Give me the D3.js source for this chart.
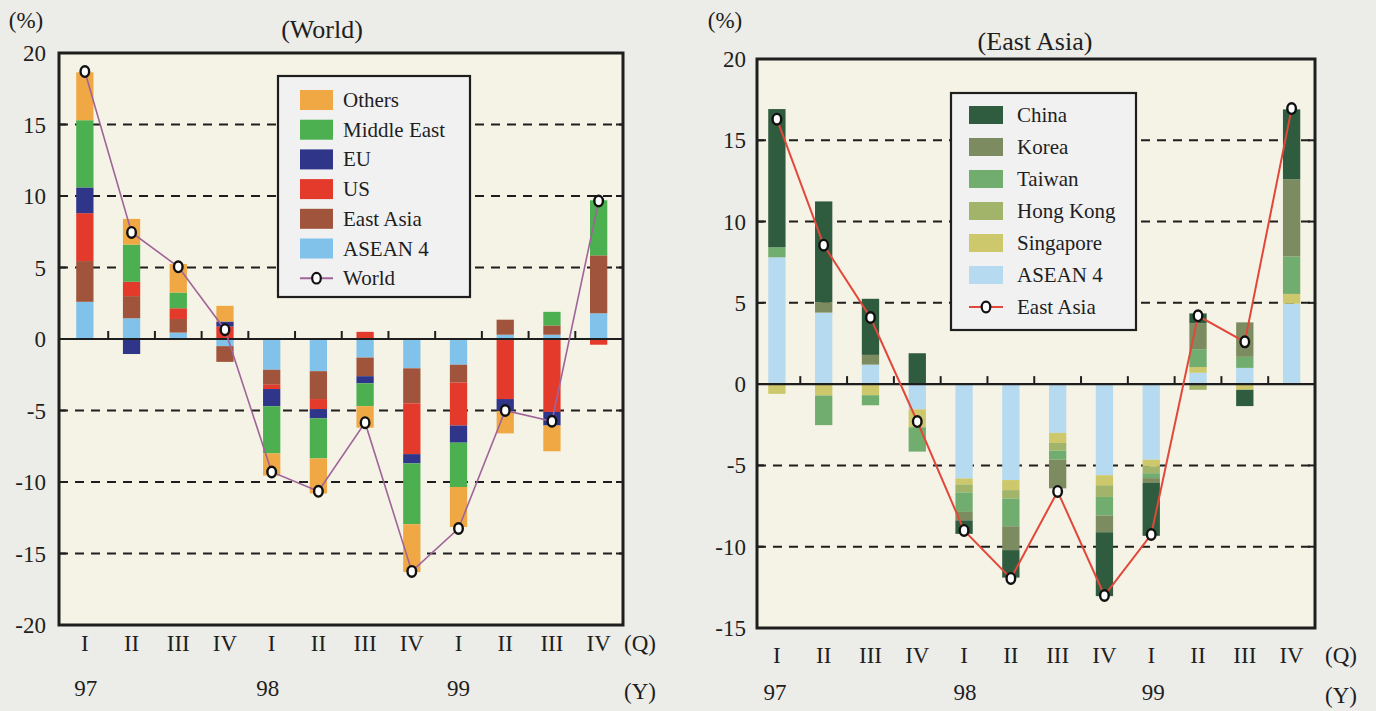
<!DOCTYPE html>
<html><head><meta charset="utf-8">
<script src="https://cdn.jsdelivr.net/npm/d3@7"></script>
<style>
html,body{margin:0;padding:0;background:#ececE8;}
svg{display:block;}
text{font-family:"Liberation Serif","Times New Roman",serif;fill:#1e1e1e;}
</style></head><body>
<svg id="c" width="1376" height="711"></svg>
<script>
// ---------- data ----------
const quarters = ["I","II","III","IV","I","II","III","IV","I","II","III","IV"];
const years = ["97","98","99"];
const yearIndex = [0,4,8];

// World chart (contributions, %)
const worldKeys = ["ASEAN 4","East Asia","US","EU","Middle East","Others"];
const asean4W   = [2.6, 1.45, 0.45, -0.5, -2.15, -2.25, -1.3, -2.05, -1.8, 0.3, 0.3, 1.8];
const eastAsiaW = [2.85, 1.55, 0.95, -1.1, -1.05, -1.95, -1.3, -2.45, -1.25, 1.05, 0.65, 4.05];
const usW       = [3.35, 1.0, 0.75, 0.87, -0.3, -0.7, 0.5, -3.55, -3.0, -4.2, -5.1, -0.4];
const euW       = [1.8, -1.05, 0, 0.35, -1.2, -0.65, -0.5, -0.65, -1.2, -0.85, -0.95, 0];
const meW       = [4.7, 2.6, 1.1, 0, -3.3, -2.8, -1.6, -4.25, -3.1, 0, 0.95, 3.85];
const othersW   = [3.35, 1.8, 2.0, 1.1, -1.55, -2.45, -1.5, -3.35, -2.8, -1.55, -1.8, 0];
const worldTotal= [18.7, 7.45, 5.05, 0.65, -9.3, -10.65, -5.85, -16.25, -13.25, -5.0, -5.75, 9.65];
const worldTicks = [20,15,10,5,0,-5,-10,-15,-20];

// East Asia chart
const eaKeys = ["ASEAN 4","Singapore","Hong Kong","Taiwan","Korea","China"];
const asean4E    = [7.8, 4.4, 1.2, -1.55, -5.8, -5.9, -3.0, -5.6, -4.65, 0.7, 1.0, 4.95];
const singaporeE = [-0.6, -0.7, -0.68, -1.1, -0.37, -0.62, -0.62, -0.62, -0.41, 0.35, -0.35, 0.6];
const hongKongE  = [0, 0, 0, 0, -0.49, -0.52, -0.47, -0.72, -0.42, -0.35, 0, 0];
const taiwanE    = [0.62, -1.82, -0.62, -1.5, -1.2, -1.7, -0.56, -1.14, -0.3, 1.1, 0.68, 2.3];
const koreaE     = [0, 0.64, 0.6, 0, -0.52, -1.47, -1.76, -1.03, -0.3, 1.6, 2.12, 4.75];
const chinaE     = [8.5, 6.2, 3.45, 1.9, -0.83, -1.69, 0, -3.93, -3.25, 0.6, -1.0, 4.3];
const eastAsiaTotal = [16.3, 8.55, 4.1, -2.3, -9.0, -11.95, -6.6, -13.0, -9.25, 4.2, 2.6, 16.95];
const eaTicks = [20,15,10,5,0,-5,-10,-15];

// ---------- styles ----------
const worldColors = {"ASEAN 4":"#80c2ea","East Asia":"#a0543c","US":"#e43a2c","EU":"#2f3589","Middle East":"#4cb050","Others":"#f0a844"};
const eaColors = {"ASEAN 4":"#b6daf0","Singapore":"#cdc86c","Hong Kong":"#a2b46a","Taiwan":"#72ad70","Korea":"#7d8c60","China":"#2f5b3e"};
const FS = 23;

const svg = d3.select("#c");

function drawChart(cfg){
  const g = svg.append("g");
  const {x0,x1,y0,y1,domain} = cfg;
  const y = d3.scaleLinear().domain(domain).range([y1,y0]);
  const xb = d3.scaleBand().domain(d3.range(12)).range([cfg.bx0,cfg.bx1]).paddingInner(0.63).paddingOuter(0.315);

  g.append("rect").attr("x",x0).attr("y",y0).attr("width",x1-x0).attr("height",y1-y0).attr("fill","#f5f3e5");

  const grid = cfg.ticks.filter(t=>t!==0 && t!==domain[0] && t!==domain[1]);
  g.selectAll(".grid").data(grid).join("line")
    .attr("x1",x0).attr("x2",x1).attr("y1",d=>y(d)).attr("y2",d=>y(d))
    .attr("stroke","#1e1e1e").attr("stroke-width",2).attr("stroke-dasharray","9,7");
  g.selectAll(".tl").data(grid).join("line")
    .attr("x1",x0).attr("x2",x0+7).attr("y1",d=>y(d)).attr("y2",d=>y(d)).attr("stroke","#1e1e1e").attr("stroke-width",2);
  g.selectAll(".tr").data(grid).join("line")
    .attr("x1",x1-7).attr("x2",x1).attr("y1",d=>y(d)).attr("y2",d=>y(d)).attr("stroke","#1e1e1e").attr("stroke-width",2);

  const rows = d3.range(12).map(i=>{const o={i}; cfg.keys.forEach((k,j)=>o[k]=cfg.series[j][i]); return o;});
  const stack = d3.stack().keys(cfg.keys).offset(d3.stackOffsetDiverging)(rows);
  g.selectAll(".layer").data(stack).join("g").attr("fill",d=>cfg.colors[d.key])
    .selectAll("rect").data(d=>d).join("rect")
    .attr("x",d=>xb(d.data.i)).attr("width",xb.bandwidth())
    .attr("y",d=>y(Math.max(d[0],d[1]))).attr("height",d=>Math.abs(y(d[0])-y(d[1])));

  g.append("line").attr("x1",x0).attr("x2",x1).attr("y1",y(0)).attr("y2",y(0)).attr("stroke","#1e1e1e").attr("stroke-width",2.2);
  const step = xb.step();
  g.selectAll(".zt").data(d3.range(1,12)).join("line")
    .attr("x1",d=>cfg.bx0+d*step).attr("x2",d=>cfg.bx0+d*step)
    .attr("y1",y(0)).attr("y2",y(0)-8).attr("stroke","#1e1e1e").attr("stroke-width",2);

  const line = d3.line().x((d,i)=>xb(i)+xb.bandwidth()/2).y(d=>y(d));
  g.append("path").datum(cfg.total).attr("d",line).attr("fill","none").attr("stroke",cfg.lineColor).attr("stroke-width",cfg.lineWidth);
  g.selectAll(".pt").data(cfg.total).join("ellipse")
    .attr("cx",(d,i)=>xb(i)+xb.bandwidth()/2).attr("cy",d=>y(d))
    .attr("rx",4.3).attr("ry",5.3).attr("fill","#fff").attr("stroke","#111").attr("stroke-width",2.4);

  g.append("rect").attr("x",x0).attr("y",y0).attr("width",x1-x0).attr("height",y1-y0)
    .attr("fill","none").attr("stroke","#1e1e1e").attr("stroke-width",3);

  g.selectAll(".yl").data(cfg.ticks).join("text")
    .attr("x",cfg.labelX).attr("y",d=>y(d)+8).attr("text-anchor","end").attr("font-size",FS).text(d=>d);

  g.selectAll(".ql").data(quarters).join("text")
    .attr("x",(d,i)=>xb(i)+xb.bandwidth()/2).attr("y",cfg.qY).attr("text-anchor","middle").attr("font-size",FS).text(d=>d);
  g.append("text").attr("x",cfg.unitX).attr("y",cfg.qY).attr("text-anchor","middle").attr("font-size",FS).text("(Q)");
  g.selectAll(".yr").data(years).join("text")
    .attr("x",(d,i)=>xb(yearIndex[i])+xb.bandwidth()/2+cfg.yearShift[i]).attr("y",cfg.yY).attr("text-anchor","middle").attr("font-size",FS).text(d=>d);
  g.append("text").attr("x",cfg.unitX).attr("y",cfg.yY+3).attr("text-anchor","middle").attr("font-size",FS).text("(Y)");

  g.append("text").attr("x",cfg.pctX).attr("y",28).attr("text-anchor","middle").attr("font-size",FS).text("(%)");
  g.append("text").attr("x",cfg.titleX).attr("y",cfg.titleY).attr("text-anchor","middle").attr("font-size",26).text(cfg.title);

  const L = cfg.legend;
  g.append("rect").attr("x",L.x).attr("y",L.y).attr("width",L.w).attr("height",L.h)
    .attr("fill","#f1f1f2").attr("stroke","#1e1e1e").attr("stroke-width",2.2);
  const items = cfg.keys.slice().reverse();
  items.forEach((k,i)=>{
    const cy = L.y + L.first + i*L.gap;
    g.append("rect").attr("x",L.sx).attr("y",cy-L.sh/2).attr("width",L.sw).attr("height",L.sh).attr("fill",cfg.colors[k]);
    g.append("text").attr("x",L.tx).attr("y",cy+7).attr("font-size",21).text(k);
  });
  const cy = L.y + L.first + items.length*L.gap;
  g.append("line").attr("x1",L.sx).attr("x2",L.sx+L.sw).attr("y1",cy).attr("y2",cy).attr("stroke",cfg.lineColor).attr("stroke-width",2);
  g.append("ellipse").attr("cx",L.sx+L.sw/2).attr("cy",cy).attr("rx",4.3).attr("ry",5.3).attr("fill","#fff").attr("stroke","#111").attr("stroke-width",2.2);
  g.append("text").attr("x",L.tx).attr("y",cy+7).attr("font-size",21).text(cfg.totalName);
}

drawChart({
  x0:59, x1:623, y0:53, y1:625, bx0:61.5, bx1:622, domain:[-20,20], ticks:worldTicks,
  keys:worldKeys, series:[asean4W,eastAsiaW,usW,euW,meW,othersW], colors:worldColors,
  total:worldTotal, totalName:"World", lineColor:"#a0649a", lineWidth:1.6,
  labelX:46, qY:651, yY:696, unitX:640, yearShift:[1,-4,0],
  pctX:26, title:"(World)", titleX:322, titleY:38,
  legend:{x:278, y:76, w:192, h:221, first:24, gap:29.7, sx:300, sw:33, sh:20, tx:343}
});

drawChart({
  x0:757, x1:1315, y0:59, y1:628, bx0:753.5, bx1:1315, domain:[-15,20], ticks:eaTicks,
  keys:eaKeys, series:[asean4E,singaporeE,hongKongE,taiwanE,koreaE,chinaE], colors:eaColors,
  total:eastAsiaTotal, totalName:"East Asia", lineColor:"#e2483a", lineWidth:2,
  labelX:746, qY:663, yY:700, unitX:1341, yearShift:[-2,1,2],
  pctX:725, title:"(East Asia)", titleX:1035, titleY:50,
  legend:{x:951, y:93, w:185, h:237, first:22, gap:32, sx:969, sw:34, sh:18, tx:1017}
});
</script>
</body></html>
